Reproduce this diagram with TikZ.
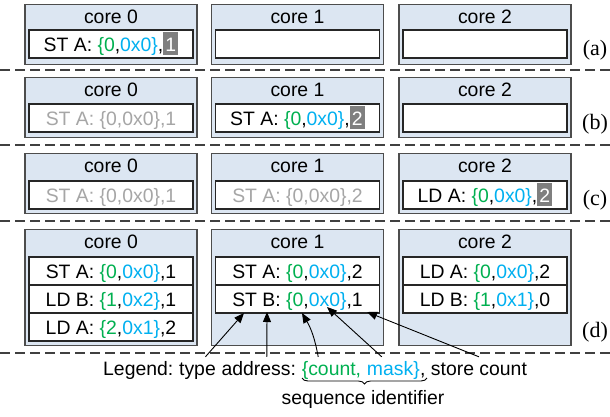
\documentclass[tikz,border=0pt]{standalone}
\usepackage{fontspec}
\setmainfont{Liberation Sans}
\newfontfamily\labelfont{Liberation Serif}
\usetikzlibrary{arrows.meta,decorations.pathreplacing}

\definecolor{corefill}{HTML}{DCE6F2}
\definecolor{coreedge}{HTML}{4D4D4D}
\definecolor{seqgreen}{HTML}{00B050}
\definecolor{seqblue}{HTML}{00B0F0}
\definecolor{fadegray}{HTML}{A6A6A6}
\definecolor{cntgray}{HTML}{7F7F7F}

% sequence identifier {count,mask}
\newcommand\seqid[2]{{\color{seqgreen}\{#1},{\color{seqblue}#2\}}}
% store count shown on a grey tag
\newcommand\cnttag[1]{{\setlength\fboxsep{0pt}\colorbox{cntgray}{\hspace{2.1pt}\vrule height 19.3pt depth 4.3pt width 0pt\color{white}#1\hspace{2.1pt}}}}

\begin{document}
\begin{tikzpicture}[x=1pt,y=-1pt,
  txt/.style={font=\fontsize{19.4}{23}\selectfont},
  corebox/.style={draw=coreedge, fill=corefill, line width=1.2pt,
    minimum width=172pt, inner sep=0pt, anchor=north},
  coretitle/.style={txt, inner sep=0pt},
  slot/.style={txt, draw=black!85, fill=white, line width=1.1pt,
    minimum width=164pt, minimum height=28pt, inner sep=0pt,
    text height=14pt, text depth=0pt},
  faded/.style={slot, text=fadegray},
  sep/.style={draw=black!75, line width=1.4pt, dash pattern=on 10pt off 5pt},
  steplabel/.style={font=\labelfont\fontsize{22}{25}\selectfont, inner sep=0pt},
  lg/.style={txt, inner sep=0pt, text height=18pt, text depth=4pt, anchor=base west},
  ptr/.style={line width=0.9pt, -{Triangle[length=10pt,width=8pt]}},
]
\useasboundingbox (0,0) rectangle (610,416);

% ---------- (a) ----------
\node[corebox, minimum height=60pt] (a0) at (111,4) {};
\node[corebox, minimum height=60pt] (a1) at (297.5,4) {};
\node[corebox, minimum height=60pt] (a2) at (485,4) {};
\node[coretitle] (a0t) at (111,17) {core 0};
\node[coretitle] (a1t) at (297.5,17) {core 1};
\node[coretitle] (a2t) at (485,17) {core 2};
\node[slot] (a0s1) at (111,44) {ST A: \seqid{0}{0x0},\cnttag{1}};
\node[slot] (a1s1) at (297.5,44) {};
\node[slot] (a2s1) at (485,44) {};
\node[steplabel] (la) at (595,50) {(a)};
\draw[sep] (0,70) -- (610,70);

% ---------- (b) ----------
\node[corebox, minimum height=60pt] (b0) at (111,77) {};
\node[corebox, minimum height=60pt] (b1) at (297.5,77) {};
\node[corebox, minimum height=60pt] (b2) at (485,77) {};
\node[coretitle] (b0t) at (111,90) {core 0};
\node[coretitle] (b1t) at (297.5,90) {core 1};
\node[coretitle] (b2t) at (485,90) {core 2};
\node[faded] (b0s1) at (111,118) {ST A: \{0,0x0\},1};
\node[slot] (b1s1) at (297.5,118) {ST A: \seqid{0}{0x0},\cnttag{2}};
\node[slot] (b2s1) at (485,118) {};
\node[steplabel] (lb) at (595,124) {(b)};
\draw[sep] (0,145) -- (610,145);

% ---------- (c) ----------
\node[corebox, minimum height=60pt] (c0) at (111,153) {};
\node[corebox, minimum height=60pt] (c1) at (297.5,153) {};
\node[corebox, minimum height=60pt] (c2) at (485,153) {};
\node[coretitle] (c0t) at (111,166) {core 0};
\node[coretitle] (c1t) at (297.5,166) {core 1};
\node[coretitle] (c2t) at (485,166) {core 2};
\node[faded] (c0s1) at (111,195) {ST A: \{0,0x0\},1};
\node[faded] (c1s1) at (297.5,195) {ST A: \{0,0x0\},2};
\node[slot] (c2s1) at (485,195) {LD A: \seqid{0}{0x0},\cnttag{2}};
\node[steplabel] (lc) at (595,200) {(c)};
\draw[sep] (0,221) -- (610,221);

% ---------- (d) ----------
\node[corebox, minimum height=116pt] (d0) at (111,229) {};
\node[corebox, minimum height=116pt] (d1) at (297.5,229) {};
\node[corebox, minimum height=116pt] (d2) at (485,229) {};
\node[coretitle] (d0t) at (111,242) {core 0};
\node[coretitle] (d1t) at (297.5,242) {core 1};
\node[coretitle] (d2t) at (485,242) {core 2};
\node[slot] (d0s1) at (111,271) {ST A: \seqid{0}{0x0},1};
\node[slot] (d0s2) at (111,299) {LD B: \seqid{1}{0x2},1};
\node[slot] (d0s3) at (111,327) {LD A: \seqid{2}{0x1},2};
\node[slot] (d1s1) at (297.5,271) {ST A: \seqid{0}{0x0},2};
\node[slot] (d1s2) at (297.5,299) {ST B: \seqid{0}{0x0},1};
\node[slot] (d2s1) at (485,271) {LD A: \seqid{0}{0x0},2};
\node[slot] (d2s2) at (485,299) {LD B: \seqid{1}{0x1},0};
\node[steplabel] (ld) at (595,332) {(d)};
\draw[sep] (0,353) -- (610,353);

% ---------- legend ----------
\node[lg] (lgL) at (103,375) {Legend:};
\node[lg] (lgT) at ([xshift=5.4pt]lgL.base east) {type};
\node[lg] (lgD) at ([xshift=5.4pt]lgT.base east) {address:};
\node[lg, text=seqgreen] (lgC) at ([xshift=5.4pt]lgD.base east) {\{count,};
\node[lg, text=seqblue] (lgM) at ([xshift=5.4pt]lgC.base east) {mask\}};
\node[lg] (lgS) at (lgM.base east) {, store count};
\node[txt, anchor=base, inner sep=0pt] (lgSeq) at (363,404) {sequence identifier};
\draw[line width=0.9pt, decorate, decoration={brace, mirror, amplitude=6pt}]
  (302,378) -- (427,378);

% arrow tips on the ST B entry of core 1
\coordinate (tipType) at (244,313);
\coordinate (tipAddr) at (267,312);
\coordinate (tipCount) at (302,313);
\coordinate (tipMask) at (327,307);
\coordinate (tipStore) at (367,312);

\draw[ptr] ([xshift=26.5pt]lgT.north west) -- (tipType);
\draw[ptr] ([xshift=45.4pt]lgD.north west) -- (tipAddr);
\draw[ptr] ([xshift=16.6pt]lgC.north west) to[bend right=10] (tipCount);
\draw[ptr] ([xshift=15pt]lgM.north west) -- (tipMask);
\draw[ptr] ([xshift=59pt]lgS.north west) -- (tipStore);
\end{tikzpicture}
\end{document}
